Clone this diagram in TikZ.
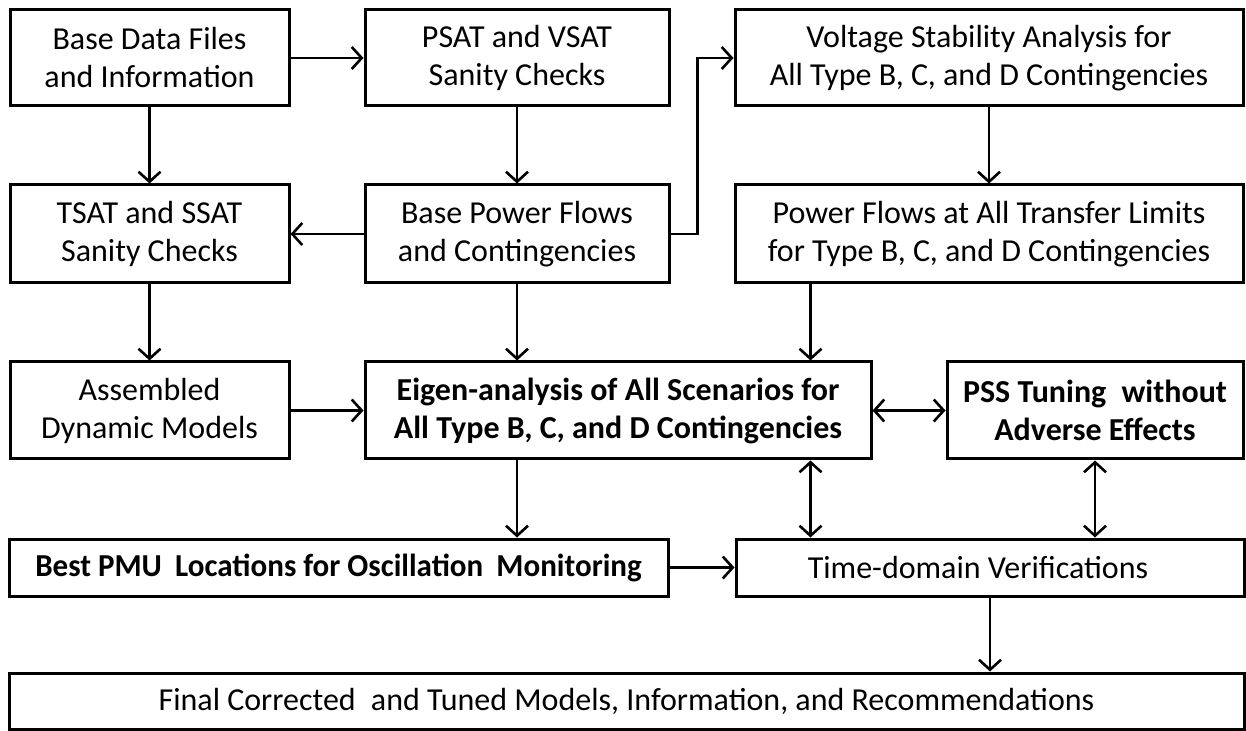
\documentclass[tikz,border=0pt]{standalone}
\usepackage{fontspec}
\usepackage{graphicx}
\setmainfont{Carlito}
\usetikzlibrary{arrows.meta,calc}
\tikzset{
  box/.style={draw=black, line width=1.5pt, inner sep=0pt, align=center,
    font=\fontsize{16}{19}\selectfont},
  bbox/.style={box, font=\fontsize{16}{19}\selectfont\bfseries},
  arr/.style={line width=1.3pt, -{Straight Barb[length=5pt,width=11pt,line width=1.3pt]}},
  darr/.style={line width=1.3pt, {Straight Barb[length=5pt,width=11pt,line width=1.3pt]}-{Straight Barb[length=5pt,width=11pt,line width=1.3pt]}}
}
\begin{document}
\begin{tikzpicture}[x=0.5pt,y=-0.5pt]
\useasboundingbox (0,0) rectangle (1246,731);
\node[box, minimum width=139.5pt, minimum height=48pt] (A) at (149.5,58) {Base Data Files\\and Information};
\node[box, minimum width=152pt, minimum height=48pt] (B) at (517,58) {PSAT and VSAT\\Sanity Checks};
\node[box, minimum width=254pt, minimum height=48pt] (C) at (989,58) {Voltage Stability Analysis for\\All Type B, C, and D Contingencies};
\node[box, minimum width=139.5pt, minimum height=49pt] (D) at (149.5,234) {TSAT and SSAT\\Sanity Checks};
\node[box, minimum width=152pt, minimum height=49pt] (E) at (517,234) {Base Power Flows\\and Contingencies};
\node[box, minimum width=254pt, minimum height=49pt] (F) at (989,234) {Power Flows at All Transfer Limits\\for Type B, C, and D Contingencies};
\node[box, minimum width=139.5pt, minimum height=48.5pt] (G) at (149.5,410.5) {Assembled\\Dynamic Models};
\node[bbox, minimum width=253pt, minimum height=48.5pt] (H) at (618,410.5) {Eigen-analysis of All Scenarios for\\All Type B, C, and D Contingencies};
\node[bbox, minimum width=148pt, minimum height=48.5pt] (I) at (1095,410.5) {PSS Tuning\hspace{0.25em} without\\Adverse Effects};
\node[bbox, minimum width=329.5pt, minimum height=28.5pt] (J) at (338.5,567.5) {\scalebox{0.97}[1]{Best PMU\hspace{0.2em} Locations for Oscillation\hspace{0.2em} Monitoring}};
\node[box, minimum width=254pt, minimum height=28.5pt] (K) at (990,567.5) {Time-domain Verifications\hspace*{12pt}};
\node[box, minimum width=617.5pt, minimum height=28pt] (L) at (626.5,701) {Final Corrected\hspace{0.25em} and Tuned Models, Information, and Recommendations};

\coordinate (f1) at ([xshift=38.5pt]F.south west);
\coordinate (e1) at ([xshift=13.5pt]E.east);

\draw[arr] (A) -- (B);
\draw[arr] (A) -- (D);
\draw[arr] (B) -- (E);
\draw[arr] (E) -- (D);
\draw[arr] (E.east) -- (e1) |- (C.west);
\draw[arr] (C) -- (F);
\draw[arr] (D) -- (G);
\draw[arr] (E.south) -- (E.south |- H.north);
\draw[arr] (f1) -- (f1 |- H.north);
\draw[arr] (G) -- (H);
\draw[darr] (H) -- (I);
\draw[arr] (E.south |- H.south) -- (E.south |- J.north);
\draw[darr] (f1 |- H.south) -- (f1 |- K.north);
\draw[darr] (I.south) -- (I.south |- K.north);
\draw[arr] (J) -- (K);
\draw[arr] (K.south) -- (K.south |- L.north);
\end{tikzpicture}
\end{document}
